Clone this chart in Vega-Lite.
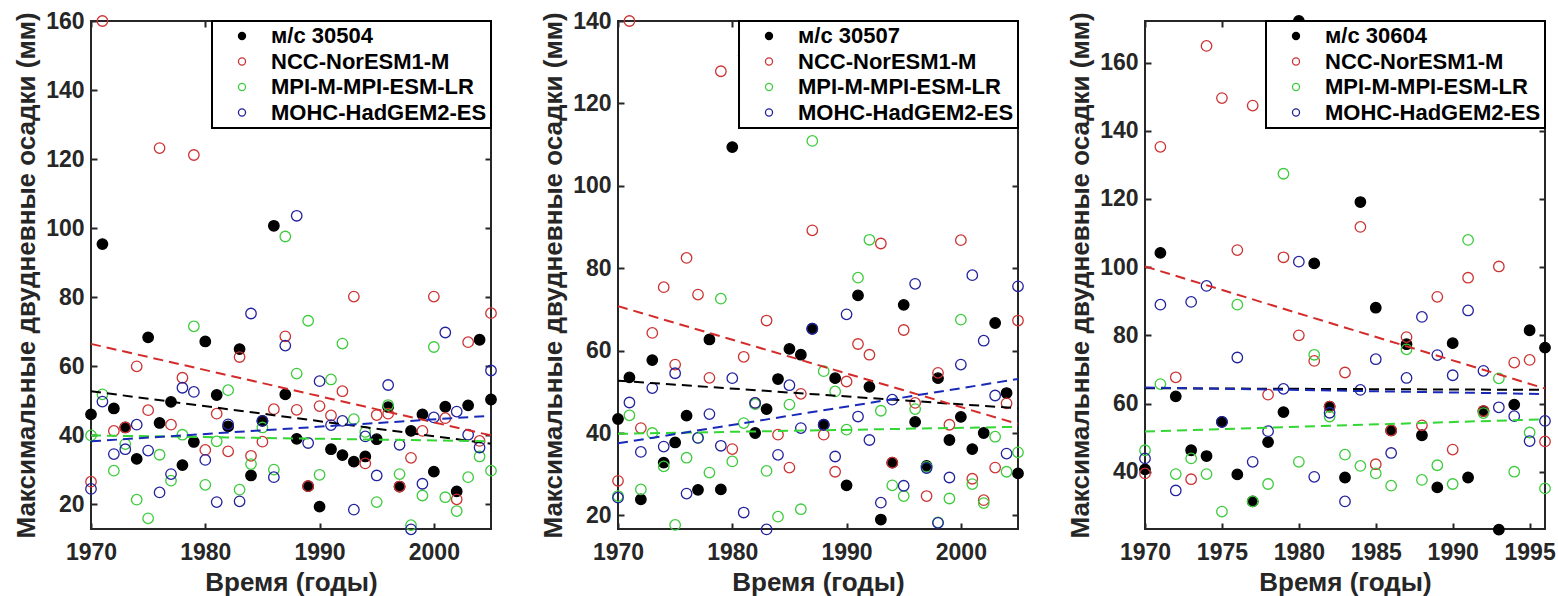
{
  "$schema": "https://vega.github.io/schema/vega-lite/v6.json",
  "padding": {"left": 12, "top": 9, "right": 4, "bottom": 0},
  "background": "white",
  "config": {
    "font": "Liberation Sans",
    "view": {"stroke": "#262626", "strokeWidth": 2},
    "axis": {
      "labelFont": "Liberation Sans", "labelFontWeight": "bold", "labelFontSize": 23, "labelColor": "#262626", "labelFlush": false, "labelOverlap": false,
      "titleFont": "Liberation Sans", "titleFontWeight": "bold", "titleFontSize": 26, "titleColor": "#262626",
      "grid": false, "domain": false, "tickColor": "#262626", "tickWidth": 2, "tickSize": -6
    },
    "axisX": {"labelPadding": 18, "titlePadding": 5},
    "axisY": {"labelPadding": 13, "titlePadding": 6},
    "legend": {
      "orient": "top-right", "offset": 0, "padding": 4, "strokeColor": "#000000", "strokeWidth": 2, "fillColor": "white",
      "labelFont": "Liberation Sans", "labelFontWeight": "bold", "labelFontSize": 22, "labelColor": "#000000", "labelLimit": 0,
      "symbolSize": 50, "symbolStrokeWidth": 1.3, "rowPadding": 3.5, "labelOffset": 18, "symbolOffset": 15, "cornerRadius": 0
    }
  },
  "resolve": {"scale": {"stroke": "independent", "fill": "independent", "color": "independent"}, "legend": {"stroke": "independent", "fill": "independent", "color": "independent"}},
  "datasets": {
    "p1": [
      {"year":1970,"mm":46.1,"series":"м/с 30504"},{"year":1971,"mm":95.4,"series":"м/с 30504"},{"year":1972,"mm":47.8,"series":"м/с 30504"},{"year":1973,"mm":42.3,"series":"м/с 30504"},{"year":1974,"mm":33.2,"series":"м/с 30504"},{"year":1975,"mm":68.4,"series":"м/с 30504"},{"year":1976,"mm":43.6,"series":"м/с 30504"},{"year":1977,"mm":49.7,"series":"м/с 30504"},{"year":1978,"mm":31.4,"series":"м/с 30504"},{"year":1979,"mm":38.1,"series":"м/с 30504"},{"year":1980,"mm":67.2,"series":"м/с 30504"},{"year":1981,"mm":51.7,"series":"м/с 30504"},{"year":1982,"mm":42.6,"series":"м/с 30504"},{"year":1983,"mm":65.0,"series":"м/с 30504"},{"year":1984,"mm":28.4,"series":"м/с 30504"},{"year":1985,"mm":44.2,"series":"м/с 30504"},{"year":1986,"mm":100.7,"series":"м/с 30504"},{"year":1987,"mm":51.9,"series":"м/с 30504"},{"year":1988,"mm":39.0,"series":"м/с 30504"},{"year":1989,"mm":25.3,"series":"м/с 30504"},{"year":1990,"mm":19.4,"series":"м/с 30504"},{"year":1991,"mm":36.0,"series":"м/с 30504"},{"year":1992,"mm":34.3,"series":"м/с 30504"},{"year":1993,"mm":32.4,"series":"м/с 30504"},{"year":1994,"mm":33.9,"series":"м/с 30504"},{"year":1995,"mm":38.9,"series":"м/с 30504"},{"year":1996,"mm":48.2,"series":"м/с 30504"},{"year":1997,"mm":25.2,"series":"м/с 30504"},{"year":1998,"mm":41.3,"series":"м/с 30504"},{"year":1999,"mm":46.1,"series":"м/с 30504"},{"year":2000,"mm":29.5,"series":"м/с 30504"},{"year":2001,"mm":48.3,"series":"м/с 30504"},{"year":2002,"mm":23.8,"series":"м/с 30504"},{"year":2003,"mm":48.7,"series":"м/с 30504"},{"year":2004,"mm":67.7,"series":"м/с 30504"},{"year":2005,"mm":50.4,"series":"м/с 30504"},
      {"year":1970,"mm":26.6,"series":"NCC-NorESM1-M"},{"year":1971,"mm":160,"series":"NCC-NorESM1-M"},{"year":1972,"mm":41.3,"series":"NCC-NorESM1-M"},{"year":1973,"mm":42.3,"series":"NCC-NorESM1-M"},{"year":1974,"mm":60.0,"series":"NCC-NorESM1-M"},{"year":1975,"mm":47.3,"series":"NCC-NorESM1-M"},{"year":1976,"mm":123.2,"series":"NCC-NorESM1-M"},{"year":1977,"mm":43.1,"series":"NCC-NorESM1-M"},{"year":1978,"mm":56.7,"series":"NCC-NorESM1-M"},{"year":1979,"mm":121.2,"series":"NCC-NorESM1-M"},{"year":1980,"mm":35.8,"series":"NCC-NorESM1-M"},{"year":1981,"mm":46.3,"series":"NCC-NorESM1-M"},{"year":1982,"mm":35.4,"series":"NCC-NorESM1-M"},{"year":1983,"mm":62.7,"series":"NCC-NorESM1-M"},{"year":1984,"mm":34.1,"series":"NCC-NorESM1-M"},{"year":1985,"mm":38.2,"series":"NCC-NorESM1-M"},{"year":1986,"mm":47.6,"series":"NCC-NorESM1-M"},{"year":1987,"mm":68.7,"series":"NCC-NorESM1-M"},{"year":1988,"mm":47.4,"series":"NCC-NorESM1-M"},{"year":1989,"mm":25.3,"series":"NCC-NorESM1-M"},{"year":1990,"mm":48.5,"series":"NCC-NorESM1-M"},{"year":1991,"mm":45.8,"series":"NCC-NorESM1-M"},{"year":1992,"mm":52.8,"series":"NCC-NorESM1-M"},{"year":1993,"mm":80.2,"series":"NCC-NorESM1-M"},{"year":1994,"mm":31.9,"series":"NCC-NorESM1-M"},{"year":1995,"mm":45.9,"series":"NCC-NorESM1-M"},{"year":1996,"mm":46.3,"series":"NCC-NorESM1-M"},{"year":1997,"mm":25.2,"series":"NCC-NorESM1-M"},{"year":1998,"mm":33.5,"series":"NCC-NorESM1-M"},{"year":1999,"mm":41.3,"series":"NCC-NorESM1-M"},{"year":2000,"mm":80.2,"series":"NCC-NorESM1-M"},{"year":2001,"mm":45.0,"series":"NCC-NorESM1-M"},{"year":2002,"mm":21.5,"series":"NCC-NorESM1-M"},{"year":2003,"mm":67.0,"series":"NCC-NorESM1-M"},{"year":2004,"mm":38.4,"series":"NCC-NorESM1-M"},{"year":2005,"mm":75.4,"series":"NCC-NorESM1-M"},
      {"year":1970,"mm":40.0,"series":"MPI-M-MPI-ESM-LR"},{"year":1971,"mm":51.9,"series":"MPI-M-MPI-ESM-LR"},{"year":1972,"mm":29.8,"series":"MPI-M-MPI-ESM-LR"},{"year":1973,"mm":37.5,"series":"MPI-M-MPI-ESM-LR"},{"year":1974,"mm":21.4,"series":"MPI-M-MPI-ESM-LR"},{"year":1975,"mm":16.0,"series":"MPI-M-MPI-ESM-LR"},{"year":1976,"mm":34.4,"series":"MPI-M-MPI-ESM-LR"},{"year":1977,"mm":26.9,"series":"MPI-M-MPI-ESM-LR"},{"year":1978,"mm":40.2,"series":"MPI-M-MPI-ESM-LR"},{"year":1979,"mm":71.6,"series":"MPI-M-MPI-ESM-LR"},{"year":1980,"mm":25.7,"series":"MPI-M-MPI-ESM-LR"},{"year":1981,"mm":38.3,"series":"MPI-M-MPI-ESM-LR"},{"year":1982,"mm":53.1,"series":"MPI-M-MPI-ESM-LR"},{"year":1983,"mm":24.3,"series":"MPI-M-MPI-ESM-LR"},{"year":1984,"mm":31.7,"series":"MPI-M-MPI-ESM-LR"},{"year":1985,"mm":42.3,"series":"MPI-M-MPI-ESM-LR"},{"year":1986,"mm":30.1,"series":"MPI-M-MPI-ESM-LR"},{"year":1987,"mm":97.6,"series":"MPI-M-MPI-ESM-LR"},{"year":1988,"mm":57.9,"series":"MPI-M-MPI-ESM-LR"},{"year":1989,"mm":73.2,"series":"MPI-M-MPI-ESM-LR"},{"year":1990,"mm":28.6,"series":"MPI-M-MPI-ESM-LR"},{"year":1991,"mm":56.2,"series":"MPI-M-MPI-ESM-LR"},{"year":1992,"mm":66.6,"series":"MPI-M-MPI-ESM-LR"},{"year":1993,"mm":44.7,"series":"MPI-M-MPI-ESM-LR"},{"year":1994,"mm":41.0,"series":"MPI-M-MPI-ESM-LR"},{"year":1995,"mm":20.7,"series":"MPI-M-MPI-ESM-LR"},{"year":1996,"mm":48.8,"series":"MPI-M-MPI-ESM-LR"},{"year":1997,"mm":28.8,"series":"MPI-M-MPI-ESM-LR"},{"year":1998,"mm":14.0,"series":"MPI-M-MPI-ESM-LR"},{"year":1999,"mm":22.6,"series":"MPI-M-MPI-ESM-LR"},{"year":2000,"mm":65.6,"series":"MPI-M-MPI-ESM-LR"},{"year":2001,"mm":22.1,"series":"MPI-M-MPI-ESM-LR"},{"year":2002,"mm":18.1,"series":"MPI-M-MPI-ESM-LR"},{"year":2003,"mm":27.9,"series":"MPI-M-MPI-ESM-LR"},{"year":2004,"mm":33.9,"series":"MPI-M-MPI-ESM-LR"},{"year":2005,"mm":29.8,"series":"MPI-M-MPI-ESM-LR"},
      {"year":1970,"mm":24.5,"series":"MOHC-HadGEM2-ES"},{"year":1971,"mm":49.8,"series":"MOHC-HadGEM2-ES"},{"year":1972,"mm":34.6,"series":"MOHC-HadGEM2-ES"},{"year":1973,"mm":36.0,"series":"MOHC-HadGEM2-ES"},{"year":1974,"mm":43.1,"series":"MOHC-HadGEM2-ES"},{"year":1975,"mm":35.6,"series":"MOHC-HadGEM2-ES"},{"year":1976,"mm":23.5,"series":"MOHC-HadGEM2-ES"},{"year":1977,"mm":28.8,"series":"MOHC-HadGEM2-ES"},{"year":1978,"mm":53.8,"series":"MOHC-HadGEM2-ES"},{"year":1979,"mm":52.6,"series":"MOHC-HadGEM2-ES"},{"year":1980,"mm":32.9,"series":"MOHC-HadGEM2-ES"},{"year":1981,"mm":20.7,"series":"MOHC-HadGEM2-ES"},{"year":1982,"mm":43.2,"series":"MOHC-HadGEM2-ES"},{"year":1983,"mm":20.9,"series":"MOHC-HadGEM2-ES"},{"year":1984,"mm":75.3,"series":"MOHC-HadGEM2-ES"},{"year":1985,"mm":44.2,"series":"MOHC-HadGEM2-ES"},{"year":1986,"mm":27.9,"series":"MOHC-HadGEM2-ES"},{"year":1987,"mm":66.0,"series":"MOHC-HadGEM2-ES"},{"year":1988,"mm":103.6,"series":"MOHC-HadGEM2-ES"},{"year":1989,"mm":37.8,"series":"MOHC-HadGEM2-ES"},{"year":1990,"mm":55.7,"series":"MOHC-HadGEM2-ES"},{"year":1991,"mm":43.0,"series":"MOHC-HadGEM2-ES"},{"year":1992,"mm":44.2,"series":"MOHC-HadGEM2-ES"},{"year":1993,"mm":18.5,"series":"MOHC-HadGEM2-ES"},{"year":1994,"mm":39.7,"series":"MOHC-HadGEM2-ES"},{"year":1995,"mm":28.4,"series":"MOHC-HadGEM2-ES"},{"year":1996,"mm":54.6,"series":"MOHC-HadGEM2-ES"},{"year":1997,"mm":37.3,"series":"MOHC-HadGEM2-ES"},{"year":1998,"mm":12.8,"series":"MOHC-HadGEM2-ES"},{"year":1999,"mm":26.0,"series":"MOHC-HadGEM2-ES"},{"year":2000,"mm":45.2,"series":"MOHC-HadGEM2-ES"},{"year":2001,"mm":69.8,"series":"MOHC-HadGEM2-ES"},{"year":2002,"mm":46.9,"series":"MOHC-HadGEM2-ES"},{"year":2003,"mm":40.2,"series":"MOHC-HadGEM2-ES"},{"year":2004,"mm":36.5,"series":"MOHC-HadGEM2-ES"},{"year":2005,"mm":58.8,"series":"MOHC-HadGEM2-ES"}
    ],
    "t1": [
      {"year":1970,"mm":52.8,"series":"м/с 30504"},{"year":2005,"mm":37.6,"series":"м/с 30504"},
      {"year":1970,"mm":66.5,"series":"NCC-NorESM1-M"},{"year":2005,"mm":40.0,"series":"NCC-NorESM1-M"},
      {"year":1970,"mm":40.0,"series":"MPI-M-MPI-ESM-LR"},{"year":2005,"mm":38.3,"series":"MPI-M-MPI-ESM-LR"},
      {"year":1970,"mm":38.3,"series":"MOHC-HadGEM2-ES"},{"year":2005,"mm":45.7,"series":"MOHC-HadGEM2-ES"}
    ],
    "p2": [
      {"year":1970,"mm":43.4,"series":"м/с 30507"},{"year":1971,"mm":53.5,"series":"м/с 30507"},{"year":1972,"mm":23.9,"series":"м/с 30507"},{"year":1973,"mm":57.7,"series":"м/с 30507"},{"year":1974,"mm":32.8,"series":"м/с 30507"},{"year":1975,"mm":37.7,"series":"м/с 30507"},{"year":1976,"mm":44.2,"series":"м/с 30507"},{"year":1977,"mm":26.2,"series":"м/с 30507"},{"year":1978,"mm":62.7,"series":"м/с 30507"},{"year":1979,"mm":26.3,"series":"м/с 30507"},{"year":1980,"mm":109.4,"series":"м/с 30507"},{"year":1981,"mm":131.6,"series":"м/с 30507"},{"year":1982,"mm":40.0,"series":"м/с 30507"},{"year":1983,"mm":45.8,"series":"м/с 30507"},{"year":1984,"mm":53.1,"series":"м/с 30507"},{"year":1985,"mm":60.4,"series":"м/с 30507"},{"year":1986,"mm":59.0,"series":"м/с 30507"},{"year":1987,"mm":65.3,"series":"м/с 30507"},{"year":1988,"mm":42.0,"series":"м/с 30507"},{"year":1989,"mm":53.3,"series":"м/с 30507"},{"year":1990,"mm":27.3,"series":"м/с 30507"},{"year":1991,"mm":73.4,"series":"м/с 30507"},{"year":1992,"mm":51.2,"series":"м/с 30507"},{"year":1993,"mm":19.0,"series":"м/с 30507"},{"year":1994,"mm":32.8,"series":"м/с 30507"},{"year":1995,"mm":71.1,"series":"м/с 30507"},{"year":1996,"mm":42.7,"series":"м/с 30507"},{"year":1997,"mm":32.0,"series":"м/с 30507"},{"year":1998,"mm":53.3,"series":"м/с 30507"},{"year":1999,"mm":38.3,"series":"м/с 30507"},{"year":2000,"mm":43.9,"series":"м/с 30507"},{"year":2001,"mm":36.1,"series":"м/с 30507"},{"year":2002,"mm":40.0,"series":"м/с 30507"},{"year":2003,"mm":66.7,"series":"м/с 30507"},{"year":2004,"mm":49.7,"series":"м/с 30507"},{"year":2005,"mm":30.2,"series":"м/с 30507"},
      {"year":1970,"mm":28.4,"series":"NCC-NorESM1-M"},{"year":1971,"mm":140,"series":"NCC-NorESM1-M"},{"year":1972,"mm":41.2,"series":"NCC-NorESM1-M"},{"year":1973,"mm":64.3,"series":"NCC-NorESM1-M"},{"year":1974,"mm":75.4,"series":"NCC-NorESM1-M"},{"year":1975,"mm":56.6,"series":"NCC-NorESM1-M"},{"year":1976,"mm":82.5,"series":"NCC-NorESM1-M"},{"year":1977,"mm":73.6,"series":"NCC-NorESM1-M"},{"year":1978,"mm":53.4,"series":"NCC-NorESM1-M"},{"year":1979,"mm":127.8,"series":"NCC-NorESM1-M"},{"year":1980,"mm":36.1,"series":"NCC-NorESM1-M"},{"year":1981,"mm":58.5,"series":"NCC-NorESM1-M"},{"year":1982,"mm":47.3,"series":"NCC-NorESM1-M"},{"year":1983,"mm":67.3,"series":"NCC-NorESM1-M"},{"year":1984,"mm":39.6,"series":"NCC-NorESM1-M"},{"year":1985,"mm":31.6,"series":"NCC-NorESM1-M"},{"year":1986,"mm":49.5,"series":"NCC-NorESM1-M"},{"year":1987,"mm":89.2,"series":"NCC-NorESM1-M"},{"year":1988,"mm":39.6,"series":"NCC-NorESM1-M"},{"year":1989,"mm":30.6,"series":"NCC-NorESM1-M"},{"year":1990,"mm":52.5,"series":"NCC-NorESM1-M"},{"year":1991,"mm":61.6,"series":"NCC-NorESM1-M"},{"year":1992,"mm":59.0,"series":"NCC-NorESM1-M"},{"year":1993,"mm":86.0,"series":"NCC-NorESM1-M"},{"year":1994,"mm":32.8,"series":"NCC-NorESM1-M"},{"year":1995,"mm":65.0,"series":"NCC-NorESM1-M"},{"year":1996,"mm":47.3,"series":"NCC-NorESM1-M"},{"year":1997,"mm":24.7,"series":"NCC-NorESM1-M"},{"year":1998,"mm":54.6,"series":"NCC-NorESM1-M"},{"year":1999,"mm":42.0,"series":"NCC-NorESM1-M"},{"year":2000,"mm":86.8,"series":"NCC-NorESM1-M"},{"year":2001,"mm":28.9,"series":"NCC-NorESM1-M"},{"year":2002,"mm":23.7,"series":"NCC-NorESM1-M"},{"year":2003,"mm":31.6,"series":"NCC-NorESM1-M"},{"year":2004,"mm":47.2,"series":"NCC-NorESM1-M"},{"year":2005,"mm":67.3,"series":"NCC-NorESM1-M"},
      {"year":1970,"mm":24.7,"series":"MPI-M-MPI-ESM-LR"},{"year":1971,"mm":44.3,"series":"MPI-M-MPI-ESM-LR"},{"year":1972,"mm":26.3,"series":"MPI-M-MPI-ESM-LR"},{"year":1973,"mm":40.0,"series":"MPI-M-MPI-ESM-LR"},{"year":1974,"mm":31.9,"series":"MPI-M-MPI-ESM-LR"},{"year":1975,"mm":17.7,"series":"MPI-M-MPI-ESM-LR"},{"year":1976,"mm":34.0,"series":"MPI-M-MPI-ESM-LR"},{"year":1977,"mm":38.8,"series":"MPI-M-MPI-ESM-LR"},{"year":1978,"mm":30.4,"series":"MPI-M-MPI-ESM-LR"},{"year":1979,"mm":72.6,"series":"MPI-M-MPI-ESM-LR"},{"year":1980,"mm":33.1,"series":"MPI-M-MPI-ESM-LR"},{"year":1981,"mm":42.4,"series":"MPI-M-MPI-ESM-LR"},{"year":1982,"mm":47.0,"series":"MPI-M-MPI-ESM-LR"},{"year":1983,"mm":30.8,"series":"MPI-M-MPI-ESM-LR"},{"year":1984,"mm":19.7,"series":"MPI-M-MPI-ESM-LR"},{"year":1985,"mm":46.9,"series":"MPI-M-MPI-ESM-LR"},{"year":1986,"mm":21.5,"series":"MPI-M-MPI-ESM-LR"},{"year":1987,"mm":110.9,"series":"MPI-M-MPI-ESM-LR"},{"year":1988,"mm":55.0,"series":"MPI-M-MPI-ESM-LR"},{"year":1989,"mm":50.1,"series":"MPI-M-MPI-ESM-LR"},{"year":1990,"mm":40.8,"series":"MPI-M-MPI-ESM-LR"},{"year":1991,"mm":77.7,"series":"MPI-M-MPI-ESM-LR"},{"year":1992,"mm":86.9,"series":"MPI-M-MPI-ESM-LR"},{"year":1993,"mm":45.4,"series":"MPI-M-MPI-ESM-LR"},{"year":1994,"mm":27.3,"series":"MPI-M-MPI-ESM-LR"},{"year":1995,"mm":24.7,"series":"MPI-M-MPI-ESM-LR"},{"year":1996,"mm":45.8,"series":"MPI-M-MPI-ESM-LR"},{"year":1997,"mm":31.8,"series":"MPI-M-MPI-ESM-LR"},{"year":1998,"mm":18.3,"series":"MPI-M-MPI-ESM-LR"},{"year":1999,"mm":24.1,"series":"MPI-M-MPI-ESM-LR"},{"year":2000,"mm":67.5,"series":"MPI-M-MPI-ESM-LR"},{"year":2001,"mm":27.6,"series":"MPI-M-MPI-ESM-LR"},{"year":2002,"mm":23.0,"series":"MPI-M-MPI-ESM-LR"},{"year":2003,"mm":39.1,"series":"MPI-M-MPI-ESM-LR"},{"year":2004,"mm":30.6,"series":"MPI-M-MPI-ESM-LR"},{"year":2005,"mm":35.3,"series":"MPI-M-MPI-ESM-LR"},
      {"year":1970,"mm":24.3,"series":"MOHC-HadGEM2-ES"},{"year":1971,"mm":47.4,"series":"MOHC-HadGEM2-ES"},{"year":1972,"mm":35.4,"series":"MOHC-HadGEM2-ES"},{"year":1973,"mm":50.9,"series":"MOHC-HadGEM2-ES"},{"year":1974,"mm":36.7,"series":"MOHC-HadGEM2-ES"},{"year":1975,"mm":54.5,"series":"MOHC-HadGEM2-ES"},{"year":1976,"mm":25.3,"series":"MOHC-HadGEM2-ES"},{"year":1977,"mm":38.8,"series":"MOHC-HadGEM2-ES"},{"year":1978,"mm":44.6,"series":"MOHC-HadGEM2-ES"},{"year":1979,"mm":36.9,"series":"MOHC-HadGEM2-ES"},{"year":1980,"mm":53.3,"series":"MOHC-HadGEM2-ES"},{"year":1981,"mm":20.7,"series":"MOHC-HadGEM2-ES"},{"year":1982,"mm":47.3,"series":"MOHC-HadGEM2-ES"},{"year":1983,"mm":16.6,"series":"MOHC-HadGEM2-ES"},{"year":1984,"mm":34.7,"series":"MOHC-HadGEM2-ES"},{"year":1985,"mm":51.6,"series":"MOHC-HadGEM2-ES"},{"year":1986,"mm":41.2,"series":"MOHC-HadGEM2-ES"},{"year":1987,"mm":65.3,"series":"MOHC-HadGEM2-ES"},{"year":1988,"mm":42.0,"series":"MOHC-HadGEM2-ES"},{"year":1989,"mm":34.3,"series":"MOHC-HadGEM2-ES"},{"year":1990,"mm":68.8,"series":"MOHC-HadGEM2-ES"},{"year":1991,"mm":44.0,"series":"MOHC-HadGEM2-ES"},{"year":1992,"mm":38.3,"series":"MOHC-HadGEM2-ES"},{"year":1993,"mm":23.1,"series":"MOHC-HadGEM2-ES"},{"year":1994,"mm":48.1,"series":"MOHC-HadGEM2-ES"},{"year":1995,"mm":27.2,"series":"MOHC-HadGEM2-ES"},{"year":1996,"mm":76.2,"series":"MOHC-HadGEM2-ES"},{"year":1997,"mm":31.5,"series":"MOHC-HadGEM2-ES"},{"year":1998,"mm":18.2,"series":"MOHC-HadGEM2-ES"},{"year":1999,"mm":29.2,"series":"MOHC-HadGEM2-ES"},{"year":2000,"mm":56.6,"series":"MOHC-HadGEM2-ES"},{"year":2001,"mm":78.3,"series":"MOHC-HadGEM2-ES"},{"year":2002,"mm":62.4,"series":"MOHC-HadGEM2-ES"},{"year":2003,"mm":49.1,"series":"MOHC-HadGEM2-ES"},{"year":2004,"mm":35.0,"series":"MOHC-HadGEM2-ES"},{"year":2005,"mm":75.6,"series":"MOHC-HadGEM2-ES"}
    ],
    "t2": [
      {"year":1970,"mm":52.7,"series":"м/с 30507"},{"year":2005,"mm":46.0,"series":"м/с 30507"},
      {"year":1970,"mm":70.8,"series":"NCC-NorESM1-M"},{"year":2005,"mm":42.2,"series":"NCC-NorESM1-M"},
      {"year":1970,"mm":39.8,"series":"MPI-M-MPI-ESM-LR"},{"year":2005,"mm":41.5,"series":"MPI-M-MPI-ESM-LR"},
      {"year":1970,"mm":37.5,"series":"MOHC-HadGEM2-ES"},{"year":2005,"mm":53.1,"series":"MOHC-HadGEM2-ES"}
    ],
    "p3": [
      {"year":1970,"mm":40.7,"series":"м/с 30604"},{"year":1971,"mm":104.2,"series":"м/с 30604"},{"year":1972,"mm":62.1,"series":"м/с 30604"},{"year":1973,"mm":46.3,"series":"м/с 30604"},{"year":1974,"mm":44.6,"series":"м/с 30604"},{"year":1975,"mm":54.6,"series":"м/с 30604"},{"year":1976,"mm":39.2,"series":"м/с 30604"},{"year":1977,"mm":31.3,"series":"м/с 30604"},{"year":1978,"mm":48.7,"series":"м/с 30604"},{"year":1979,"mm":57.5,"series":"м/с 30604"},{"year":1980,"mm":172.2,"series":"м/с 30604"},{"year":1981,"mm":101.1,"series":"м/с 30604"},{"year":1982,"mm":59.1,"series":"м/с 30604"},{"year":1983,"mm":38.3,"series":"м/с 30604"},{"year":1984,"mm":119.1,"series":"м/с 30604"},{"year":1985,"mm":88.1,"series":"м/с 30604"},{"year":1986,"mm":52.1,"series":"м/с 30604"},{"year":1987,"mm":77.4,"series":"м/с 30604"},{"year":1988,"mm":50.7,"series":"м/с 30604"},{"year":1989,"mm":35.4,"series":"м/с 30604"},{"year":1990,"mm":77.7,"series":"м/с 30604"},{"year":1991,"mm":38.3,"series":"м/с 30604"},{"year":1992,"mm":57.8,"series":"м/с 30604"},{"year":1993,"mm":23.0,"series":"м/с 30604"},{"year":1994,"mm":59.7,"series":"м/с 30604"},{"year":1995,"mm":81.5,"series":"м/с 30604"},{"year":1996,"mm":76.4,"series":"м/с 30604"},
      {"year":1970,"mm":39.5,"series":"NCC-NorESM1-M"},{"year":1971,"mm":135.3,"series":"NCC-NorESM1-M"},{"year":1972,"mm":67.7,"series":"NCC-NorESM1-M"},{"year":1973,"mm":37.8,"series":"NCC-NorESM1-M"},{"year":1974,"mm":164.9,"series":"NCC-NorESM1-M"},{"year":1975,"mm":149.6,"series":"NCC-NorESM1-M"},{"year":1976,"mm":105.0,"series":"NCC-NorESM1-M"},{"year":1977,"mm":147.4,"series":"NCC-NorESM1-M"},{"year":1978,"mm":62.6,"series":"NCC-NorESM1-M"},{"year":1979,"mm":102.9,"series":"NCC-NorESM1-M"},{"year":1980,"mm":80.0,"series":"NCC-NorESM1-M"},{"year":1981,"mm":72.5,"series":"NCC-NorESM1-M"},{"year":1982,"mm":59.1,"series":"NCC-NorESM1-M"},{"year":1983,"mm":69.1,"series":"NCC-NorESM1-M"},{"year":1984,"mm":111.8,"series":"NCC-NorESM1-M"},{"year":1985,"mm":42.2,"series":"NCC-NorESM1-M"},{"year":1986,"mm":52.1,"series":"NCC-NorESM1-M"},{"year":1987,"mm":79.5,"series":"NCC-NorESM1-M"},{"year":1988,"mm":53.6,"series":"NCC-NorESM1-M"},{"year":1989,"mm":91.3,"series":"NCC-NorESM1-M"},{"year":1990,"mm":46.5,"series":"NCC-NorESM1-M"},{"year":1991,"mm":96.9,"series":"NCC-NorESM1-M"},{"year":1992,"mm":57.8,"series":"NCC-NorESM1-M"},{"year":1993,"mm":100.2,"series":"NCC-NorESM1-M"},{"year":1994,"mm":72.0,"series":"NCC-NorESM1-M"},{"year":1995,"mm":72.8,"series":"NCC-NorESM1-M"},{"year":1996,"mm":48.9,"series":"NCC-NorESM1-M"},
      {"year":1970,"mm":46.3,"series":"MPI-M-MPI-ESM-LR"},{"year":1971,"mm":65.7,"series":"MPI-M-MPI-ESM-LR"},{"year":1972,"mm":39.3,"series":"MPI-M-MPI-ESM-LR"},{"year":1973,"mm":43.9,"series":"MPI-M-MPI-ESM-LR"},{"year":1974,"mm":39.3,"series":"MPI-M-MPI-ESM-LR"},{"year":1975,"mm":28.3,"series":"MPI-M-MPI-ESM-LR"},{"year":1976,"mm":89.0,"series":"MPI-M-MPI-ESM-LR"},{"year":1977,"mm":31.3,"series":"MPI-M-MPI-ESM-LR"},{"year":1978,"mm":36.4,"series":"MPI-M-MPI-ESM-LR"},{"year":1979,"mm":127.4,"series":"MPI-M-MPI-ESM-LR"},{"year":1980,"mm":42.9,"series":"MPI-M-MPI-ESM-LR"},{"year":1981,"mm":74.3,"series":"MPI-M-MPI-ESM-LR"},{"year":1982,"mm":56.2,"series":"MPI-M-MPI-ESM-LR"},{"year":1983,"mm":45.0,"series":"MPI-M-MPI-ESM-LR"},{"year":1984,"mm":41.7,"series":"MPI-M-MPI-ESM-LR"},{"year":1985,"mm":39.5,"series":"MPI-M-MPI-ESM-LR"},{"year":1986,"mm":35.9,"series":"MPI-M-MPI-ESM-LR"},{"year":1987,"mm":75.9,"series":"MPI-M-MPI-ESM-LR"},{"year":1988,"mm":37.6,"series":"MPI-M-MPI-ESM-LR"},{"year":1989,"mm":41.9,"series":"MPI-M-MPI-ESM-LR"},{"year":1990,"mm":36.4,"series":"MPI-M-MPI-ESM-LR"},{"year":1991,"mm":108.0,"series":"MPI-M-MPI-ESM-LR"},{"year":1992,"mm":57.2,"series":"MPI-M-MPI-ESM-LR"},{"year":1993,"mm":67.4,"series":"MPI-M-MPI-ESM-LR"},{"year":1994,"mm":40.0,"series":"MPI-M-MPI-ESM-LR"},{"year":1995,"mm":51.5,"series":"MPI-M-MPI-ESM-LR"},{"year":1996,"mm":35.1,"series":"MPI-M-MPI-ESM-LR"},
      {"year":1970,"mm":43.9,"series":"MOHC-HadGEM2-ES"},{"year":1971,"mm":89.0,"series":"MOHC-HadGEM2-ES"},{"year":1972,"mm":34.5,"series":"MOHC-HadGEM2-ES"},{"year":1973,"mm":89.8,"series":"MOHC-HadGEM2-ES"},{"year":1974,"mm":94.5,"series":"MOHC-HadGEM2-ES"},{"year":1975,"mm":54.6,"series":"MOHC-HadGEM2-ES"},{"year":1976,"mm":73.5,"series":"MOHC-HadGEM2-ES"},{"year":1977,"mm":42.9,"series":"MOHC-HadGEM2-ES"},{"year":1978,"mm":51.9,"series":"MOHC-HadGEM2-ES"},{"year":1979,"mm":64.3,"series":"MOHC-HadGEM2-ES"},{"year":1980,"mm":101.6,"series":"MOHC-HadGEM2-ES"},{"year":1981,"mm":38.5,"series":"MOHC-HadGEM2-ES"},{"year":1982,"mm":57.3,"series":"MOHC-HadGEM2-ES"},{"year":1983,"mm":31.3,"series":"MOHC-HadGEM2-ES"},{"year":1984,"mm":64.0,"series":"MOHC-HadGEM2-ES"},{"year":1985,"mm":73.0,"series":"MOHC-HadGEM2-ES"},{"year":1986,"mm":45.5,"series":"MOHC-HadGEM2-ES"},{"year":1987,"mm":67.5,"series":"MOHC-HadGEM2-ES"},{"year":1988,"mm":85.4,"series":"MOHC-HadGEM2-ES"},{"year":1989,"mm":74.2,"series":"MOHC-HadGEM2-ES"},{"year":1990,"mm":68.3,"series":"MOHC-HadGEM2-ES"},{"year":1991,"mm":87.3,"series":"MOHC-HadGEM2-ES"},{"year":1992,"mm":69.6,"series":"MOHC-HadGEM2-ES"},{"year":1993,"mm":58.9,"series":"MOHC-HadGEM2-ES"},{"year":1994,"mm":56.3,"series":"MOHC-HadGEM2-ES"},{"year":1995,"mm":49.0,"series":"MOHC-HadGEM2-ES"},{"year":1996,"mm":54.9,"series":"MOHC-HadGEM2-ES"}
    ],
    "t3": [
      {"year":1970,"mm":64.5,"series":"м/с 30604"},{"year":1996,"mm":64.0,"series":"м/с 30604"},
      {"year":1970,"mm":100.2,"series":"NCC-NorESM1-M"},{"year":1996,"mm":64.4,"series":"NCC-NorESM1-M"},
      {"year":1970,"mm":51.8,"series":"MPI-M-MPI-ESM-LR"},{"year":1996,"mm":55.4,"series":"MPI-M-MPI-ESM-LR"},
      {"year":1970,"mm":64.7,"series":"MOHC-HadGEM2-ES"},{"year":1996,"mm":62.8,"series":"MOHC-HadGEM2-ES"}
    ]
  },
  "spacing": 127,
  "bounds": "flush",
  "hconcat": [
    {
      "width": 400, "height": 508,
      "layer": [
        {
          "data": {"name": "p1"},
          "mark": {"type": "point", "shape": "circle", "size": 110, "strokeWidth": 1.3, "opacity": 1, "fillOpacity": 1},
          "encoding": {
            "x": {"field": "year", "type": "quantitative", "scale": {"domain": [1970, 2005], "nice": false, "zero": false}, "axis": {"values": [1970, 1980, 1990, 2000], "format": "d", "title": "Время (годы)"}},
            "y": {"field": "mm", "type": "quantitative", "scale": {"domain": [12.9, 160], "nice": false, "zero": false}, "axis": {"values": [20, 40, 60, 80, 100, 120, 140, 160], "title": "Максимальные двудневные осадки (мм)"}},
            "stroke": {"field": "series", "type": "nominal", "scale": {"domain": ["м/с 30504", "NCC-NorESM1-M", "MPI-M-MPI-ESM-LR", "MOHC-HadGEM2-ES"], "range": ["#000000", "#cc3333", "#3ccc3c", "#22229e"]}, "legend": {"title": null}},
            "fill": {"field": "series", "type": "nominal", "scale": {"domain": ["м/с 30504", "NCC-NorESM1-M", "MPI-M-MPI-ESM-LR", "MOHC-HadGEM2-ES"], "range": ["#000000", "transparent", "transparent", "transparent"]}, "legend": {"title": null}}
          }
        },
        {
          "data": {"name": "t1"},
          "mark": {"type": "line", "strokeDash": [10, 6], "strokeWidth": 2},
          "encoding": {
            "x": {"field": "year", "type": "quantitative", "scale": {"domain": [1970, 2005], "nice": false, "zero": false}, "axis": null},
            "y": {"field": "mm", "type": "quantitative", "scale": {"domain": [12.9, 160], "nice": false, "zero": false}, "axis": null},
            "color": {"field": "series", "type": "nominal", "scale": {"domain": ["м/с 30504", "NCC-NorESM1-M", "MPI-M-MPI-ESM-LR", "MOHC-HadGEM2-ES"], "range": ["#000000", "#d42a2a", "#33d633", "#1a2ab8"]}, "legend": null}
          }
        },
        {
          "data": {"name": "t1"},
          "mark": {"type": "line", "opacity": 0},
          "encoding": {
            "x": {"field": "year", "type": "quantitative", "scale": {"domain": [1970, 2005], "nice": false, "zero": false}, "axis": {"orient": "top", "values": [1970, 1980, 1990, 2000], "labels": false, "title": null}},
            "y": {"field": "mm", "type": "quantitative", "scale": {"domain": [12.9, 160], "nice": false, "zero": false}, "axis": {"orient": "right", "values": [20, 40, 60, 80, 100, 120, 140, 160], "labels": false, "title": null}}
          }
        }
      ],
      "resolve": {"axis": {"x": "independent", "y": "independent"}}
    },
    {
      "width": 400, "height": 508,
      "layer": [
        {
          "data": {"name": "p2"},
          "mark": {"type": "point", "shape": "circle", "size": 110, "strokeWidth": 1.3, "opacity": 1, "fillOpacity": 1},
          "encoding": {
            "x": {"field": "year", "type": "quantitative", "scale": {"domain": [1970, 2005], "nice": false, "zero": false}, "axis": {"values": [1970, 1980, 1990, 2000], "format": "d", "title": "Время (годы)"}},
            "y": {"field": "mm", "type": "quantitative", "scale": {"domain": [16.7, 140], "nice": false, "zero": false}, "axis": {"values": [20, 40, 60, 80, 100, 120, 140], "title": "Максимальные двудневные осадки (мм)"}},
            "stroke": {"field": "series", "type": "nominal", "scale": {"domain": ["м/с 30507", "NCC-NorESM1-M", "MPI-M-MPI-ESM-LR", "MOHC-HadGEM2-ES"], "range": ["#000000", "#cc3333", "#3ccc3c", "#22229e"]}, "legend": {"title": null}},
            "fill": {"field": "series", "type": "nominal", "scale": {"domain": ["м/с 30507", "NCC-NorESM1-M", "MPI-M-MPI-ESM-LR", "MOHC-HadGEM2-ES"], "range": ["#000000", "transparent", "transparent", "transparent"]}, "legend": {"title": null}}
          }
        },
        {
          "data": {"name": "t2"},
          "mark": {"type": "line", "strokeDash": [10, 6], "strokeWidth": 2},
          "encoding": {
            "x": {"field": "year", "type": "quantitative", "scale": {"domain": [1970, 2005], "nice": false, "zero": false}, "axis": null},
            "y": {"field": "mm", "type": "quantitative", "scale": {"domain": [16.7, 140], "nice": false, "zero": false}, "axis": null},
            "color": {"field": "series", "type": "nominal", "scale": {"domain": ["м/с 30507", "NCC-NorESM1-M", "MPI-M-MPI-ESM-LR", "MOHC-HadGEM2-ES"], "range": ["#000000", "#d42a2a", "#33d633", "#1a2ab8"]}, "legend": null}
          }
        },
        {
          "data": {"name": "t2"},
          "mark": {"type": "line", "opacity": 0},
          "encoding": {
            "x": {"field": "year", "type": "quantitative", "scale": {"domain": [1970, 2005], "nice": false, "zero": false}, "axis": {"orient": "top", "values": [1970, 1980, 1990, 2000], "labels": false, "title": null}},
            "y": {"field": "mm", "type": "quantitative", "scale": {"domain": [16.7, 140], "nice": false, "zero": false}, "axis": {"orient": "right", "values": [20, 40, 60, 80, 100, 120, 140], "labels": false, "title": null}}
          }
        }
      ],
      "resolve": {"axis": {"x": "independent", "y": "independent"}}
    },
    {
      "width": 400, "height": 508,
      "layer": [
        {
          "data": {"name": "p3"},
          "mark": {"type": "point", "shape": "circle", "size": 110, "strokeWidth": 1.3, "opacity": 1, "fillOpacity": 1},
          "encoding": {
            "x": {"field": "year", "type": "quantitative", "scale": {"domain": [1970, 1996], "nice": false, "zero": false}, "axis": {"values": [1970, 1975, 1980, 1985, 1990, 1995], "format": "d", "title": "Время (годы)"}},
            "y": {"field": "mm", "type": "quantitative", "scale": {"domain": [23.2, 172.2], "nice": false, "zero": false}, "axis": {"values": [40, 60, 80, 100, 120, 140, 160], "title": "Максимальные двудневные осадки (мм)"}},
            "stroke": {"field": "series", "type": "nominal", "scale": {"domain": ["м/с 30604", "NCC-NorESM1-M", "MPI-M-MPI-ESM-LR", "MOHC-HadGEM2-ES"], "range": ["#000000", "#cc3333", "#3ccc3c", "#22229e"]}, "legend": {"title": null}},
            "fill": {"field": "series", "type": "nominal", "scale": {"domain": ["м/с 30604", "NCC-NorESM1-M", "MPI-M-MPI-ESM-LR", "MOHC-HadGEM2-ES"], "range": ["#000000", "transparent", "transparent", "transparent"]}, "legend": {"title": null}}
          }
        },
        {
          "data": {"name": "t3"},
          "mark": {"type": "line", "strokeDash": [10, 6], "strokeWidth": 2},
          "encoding": {
            "x": {"field": "year", "type": "quantitative", "scale": {"domain": [1970, 1996], "nice": false, "zero": false}, "axis": null},
            "y": {"field": "mm", "type": "quantitative", "scale": {"domain": [23.2, 172.2], "nice": false, "zero": false}, "axis": null},
            "color": {"field": "series", "type": "nominal", "scale": {"domain": ["м/с 30604", "NCC-NorESM1-M", "MPI-M-MPI-ESM-LR", "MOHC-HadGEM2-ES"], "range": ["#000000", "#d42a2a", "#33d633", "#1a2ab8"]}, "legend": null}
          }
        },
        {
          "data": {"name": "t3"},
          "mark": {"type": "line", "opacity": 0},
          "encoding": {
            "x": {"field": "year", "type": "quantitative", "scale": {"domain": [1970, 1996], "nice": false, "zero": false}, "axis": {"orient": "top", "values": [1970, 1975, 1980, 1985, 1990, 1995], "labels": false, "title": null}},
            "y": {"field": "mm", "type": "quantitative", "scale": {"domain": [23.2, 172.2], "nice": false, "zero": false}, "axis": {"orient": "right", "values": [40, 60, 80, 100, 120, 140, 160], "labels": false, "title": null}}
          }
        }
      ],
      "resolve": {"axis": {"x": "independent", "y": "independent"}}
    }
  ]
}
